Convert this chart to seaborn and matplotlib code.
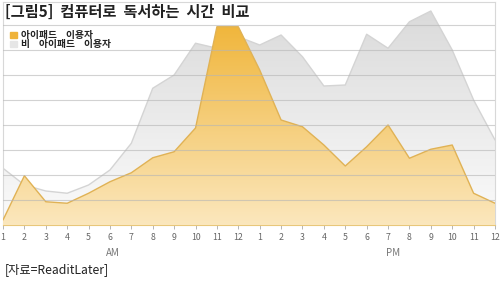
import numpy as np
import pandas as pd
import matplotlib
matplotlib.use('agg')
import matplotlib.pyplot as plt
from matplotlib.colors import LinearSegmentedColormap
import seaborn as sns

sns.set_style('white')
plt.rcParams['font.family'] = ['Noto Sans CJK KR', 'DejaVu Sans']

hour_labels = ['1', '2', '3', '4', '5', '6', '7', '8', '9', '10', '11', '12',
               '1', '2', '3', '4', '5', '6', '7', '8', '9', '10', '11', '12']
ipad_users = [0.2, 1.97, 0.93, 0.87, 1.27, 1.73, 2.09, 2.69, 2.93, 3.88, 7.93, 7.93,
              6.2, 4.2, 3.93, 3.2, 2.36, 3.13, 4.0, 2.67, 3.03, 3.2, 1.27, 0.87]
non_ipad_users = [2.27, 1.6, 1.36, 1.27, 1.6, 2.2, 3.27, 5.47, 6.0, 7.27, 7.07, 7.53,
                  7.2, 7.6, 6.73, 5.56, 5.6, 7.63, 7.07, 8.13, 8.56, 7.0, 5.0, 3.4]

df = pd.DataFrame({'hour': np.arange(len(hour_labels)),
                   'ipad': ipad_users, 'non_ipad': non_ipad_users})

YMAX = 8.92
fig = plt.figure(figsize=(5, 2.81), dpi=100)
ax = fig.add_axes([0.006, 0.1993, 0.984, 0.7936])
x0, x1 = df['hour'].min(), df['hour'].max()


def gradient_area(y, c_top, c_bottom, edge, z):
    poly = ax.fill_between(df['hour'], 0, y, color='none', lw=0, zorder=z)
    cmap = LinearSegmentedColormap.from_list('g', [c_bottom, c_top])
    grad = np.linspace(0, 1, 256).reshape(-1, 1)
    im = ax.imshow(grad, extent=[x0, x1, 0, YMAX], origin='lower', aspect='auto',
                   cmap=cmap, zorder=z)
    im.set_clip_path(poly.get_paths()[0], transform=ax.transData)
    sns.lineplot(x=df['hour'], y=y, color=edge, lw=1.0, ax=ax, zorder=z + 0.5)


gradient_area(df['non_ipad'], '#d9d9d9', '#fbfbfb', '#d4d4d4', 1)
gradient_area(df['ipad'], '#efb02c', '#fbe7bd', '#e0b255', 3)

for g in range(1, 9):
    ax.axhline(g, color='#b5b5b5', lw=0.8, alpha=0.6, zorder=5)

ax.set_xlim(x0, x1)
ax.set_ylim(0, YMAX)
ax.set_xticks(df['hour'])
ax.set_xticklabels(hour_labels, fontsize=6.3, color='#666666')
ax.tick_params(axis='x', length=3, width=0.6, color='#aaaaaa', pad=3, bottom=True)
ax.set_yticks([])
ax.set_xlabel('')
ax.set_ylabel('')
for side in ['top', 'right', 'left']:
    ax.spines[side].set_color('#d8d8d8')
    ax.spines[side].set_linewidth(0.8)
ax.spines['bottom'].set_color('#e8c77a')
ax.spines['bottom'].set_linewidth(0.8)

fig.text(0.01, 0.957, '[그림5]  컴퓨터로  독서하는  시간  비교', fontsize=11,
         fontweight='bold', color='#222222', va='center')
fig.patches.append(plt.Rectangle((0.02, 0.865), 0.014, 0.022, color='#efb33a',
                                 transform=fig.transFigure, figure=fig))
fig.patches.append(plt.Rectangle((0.02, 0.833), 0.014, 0.022, color='#e6e6e6',
                                 transform=fig.transFigure, figure=fig))
fig.text(0.042, 0.877, '아이패드    이용자', fontsize=7, fontweight='bold',
         color='#222222', va='center')
fig.text(0.042, 0.843, '비    아이패드    이용자', fontsize=7, fontweight='bold',
         color='#222222', va='center')

fig.text(0.226, 0.1, 'AM', fontsize=7, color='#777777', ha='center', va='center')
fig.text(0.786, 0.1, 'PM', fontsize=7, color='#777777', ha='center', va='center')
fig.text(0.01, 0.04, '[자료=ReaditLater]', fontsize=8.8, color='#222222', va='center')

fig.savefig('out.png', dpi=100, facecolor='white')
